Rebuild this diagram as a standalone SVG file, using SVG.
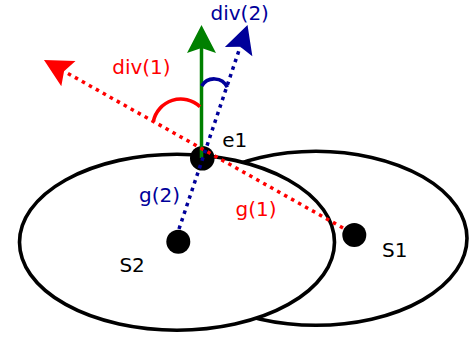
<svg xmlns="http://www.w3.org/2000/svg" width="469" height="337" viewBox="0 0 469 337">
<style>
.set{fill:#fff;stroke:#000;stroke-width:3.6}
.pt{fill:#000}
.lbl{font-family:"DejaVu Sans",sans-serif;font-size:20px}
.red{fill:#f00}
.blue{fill:#00009a}
.blk{fill:#000}
.dot{fill:none;stroke-width:3.5;stroke-dasharray:3.5,4.5}
.arc{fill:none;stroke-width:3.6}
</style>
<defs>
<marker id="ahR" markerUnits="userSpaceOnUse" orient="auto" refX="0" refY="0" markerWidth="60" markerHeight="60" overflow="visible"><path d="M23,0 L-5,-14.5 L0,0 L-5,14.5 Z" fill="#f00"/></marker>
<marker id="ahB" markerUnits="userSpaceOnUse" orient="auto" refX="0" refY="0" markerWidth="60" markerHeight="60" overflow="visible"><path d="M23,0 L-5,-14.5 L0,0 L-5,14.5 Z" fill="#00009a"/></marker>
<marker id="ahG" markerUnits="userSpaceOnUse" orient="auto" refX="0" refY="0" markerWidth="60" markerHeight="60" overflow="visible"><path d="M23,0 L-5,-14.5 L0,0 L-5,14.5 Z" fill="#008000"/></marker>
</defs>
<g id="S1">
<ellipse class="set" cx="316" cy="238.3" rx="151" ry="87"/>
<circle class="pt" cx="354.3" cy="235" r="12"/>
<text class="lbl blk" x="382" y="256.7">S1</text>
</g>
<g id="S2">
<ellipse class="set" cx="177" cy="242.2" rx="157.5" ry="88"/>
<circle class="pt" cx="178.3" cy="241.7" r="12"/>
<text class="lbl blk" x="119.4" y="271.7">S2</text>
</g>
<g id="e1">
<circle class="pt" cx="202.3" cy="158.3" r="12.3"/>
<text class="lbl blk" x="222.2" y="147">e1</text>
</g>
<g id="connectors">
<path d="M201.5,158 L201.5,48" stroke="#008000" stroke-width="3.5" fill="none" marker-end="url(#ahG)"/>
<path class="dot" d="M343,228 L64.05,71.27" stroke="#f00" marker-end="url(#ahR)"/>
<path class="dot" d="M179,229 L240.2,46.8" stroke="#00009a" marker-end="url(#ahB)"/>
<path class="arc" d="M153.3,121.7 A28,28 0 0 1 200,106.7" stroke="#f00"/>
<path class="arc" d="M201.7,86 A14.5,14.5 0 0 1 227.3,87.3" stroke="#00009a"/>
</g>
<g id="labels">
<text class="lbl blue" x="210.5" y="20">div(2)</text>
<text class="lbl red" x="112.2" y="74">div(1)</text>
<text class="lbl blue" x="139" y="202">g(2)</text>
<text class="lbl red" x="235.6" y="215.7">g(1)</text>
</g>
</svg>
